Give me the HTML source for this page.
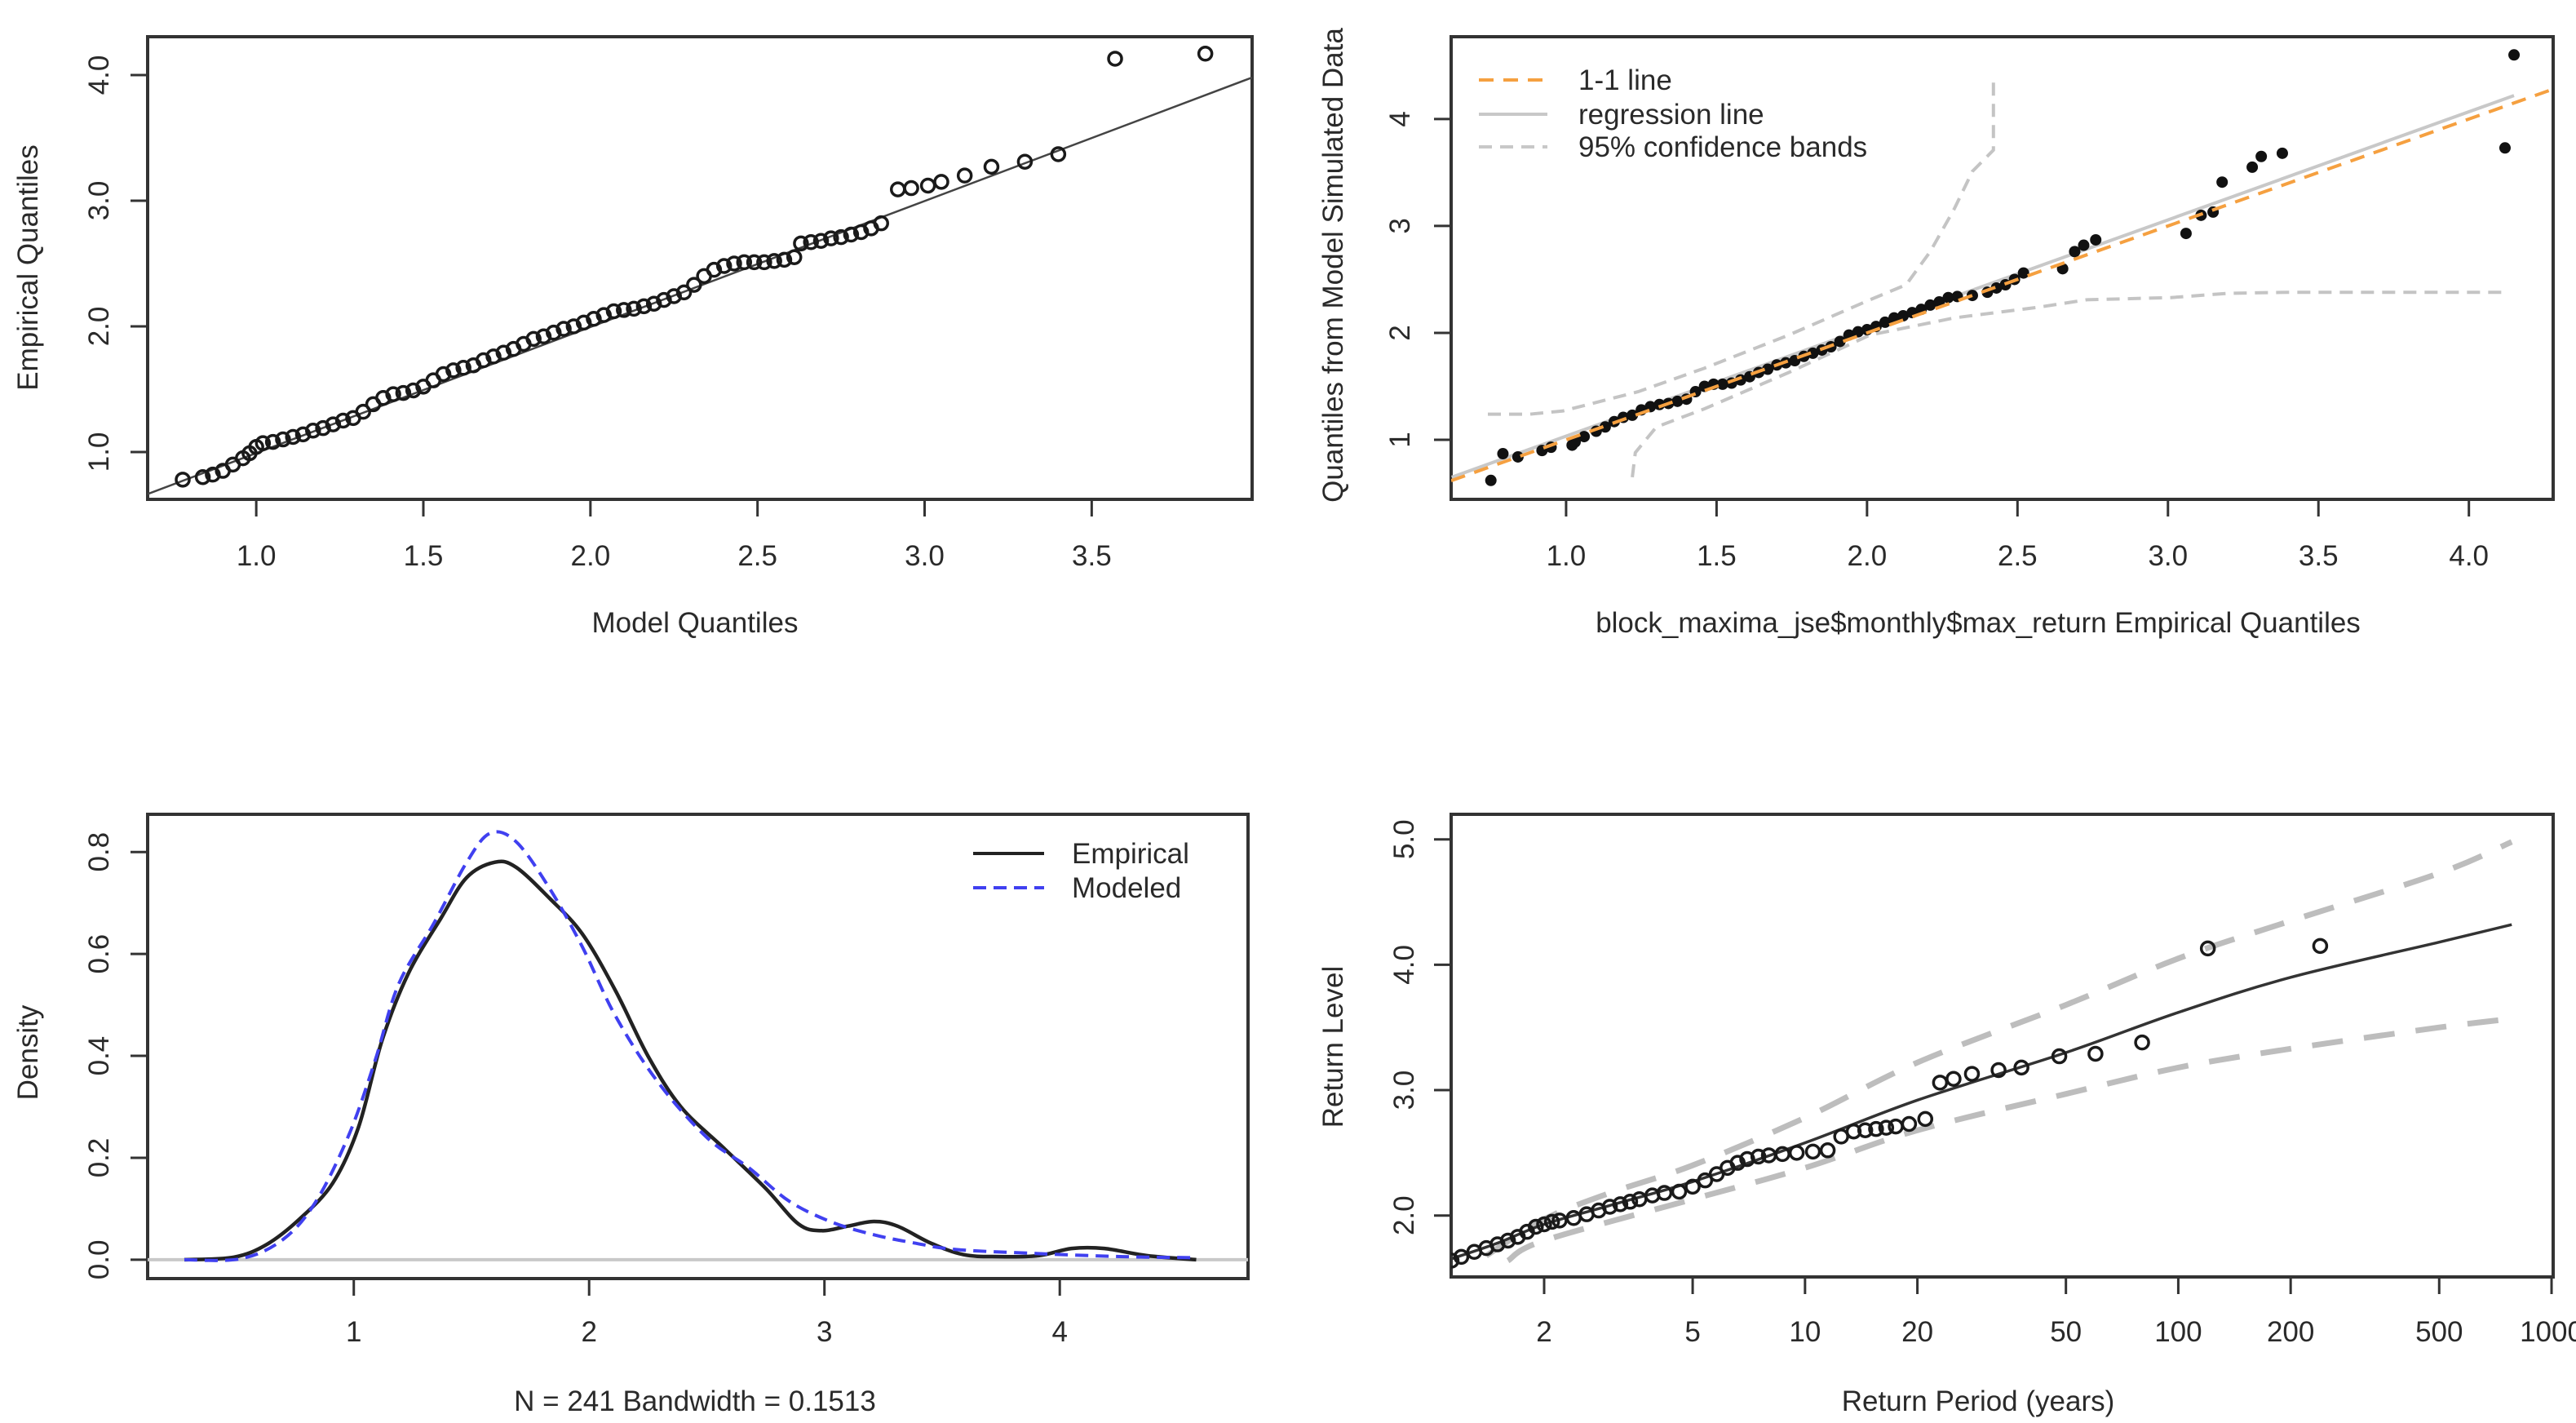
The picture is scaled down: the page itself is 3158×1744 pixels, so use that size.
<!DOCTYPE html>
<html><head><meta charset="utf-8"><style>
html,body{margin:0;padding:0;background:#fff;}
svg{display:block;font-family:"Liberation Sans",sans-serif;}
</style></head><body>
<svg id="fig" width="3158" height="1744" viewBox="0 0 3158 1744" xmlns="http://www.w3.org/2000/svg">
<rect width="3158" height="1744" fill="#fff"/>
</svg>
<script>
// ---------- Panel 1: QQ plot (model vs empirical) ----------
const p1Model = [0.78,0.84,0.87,0.90,0.93,0.96,0.98,1.00,1.02,1.05,1.08,1.11,1.14,1.17,1.20,1.23,1.26,1.29,1.32,1.35,1.38,1.41,1.44,1.47,1.50,1.53,1.56,1.59,1.62,1.65,1.68,1.71,1.74,1.77,1.80,1.83,1.86,1.89,1.92,1.95,1.98,2.01,2.04,2.07,2.10,2.13,2.16,2.19,2.22,2.25,2.28,2.31,2.34,2.37,2.40,2.43,2.46,2.49,2.52,2.55,2.58,2.61,2.63,2.66,2.69,2.72,2.75,2.78,2.81,2.84,2.87,2.92,2.96,3.01,3.05,3.12,3.20,3.30,3.40,3.57,3.84];
const p1Emp = [0.78,0.80,0.82,0.85,0.90,0.95,0.99,1.04,1.07,1.08,1.10,1.12,1.14,1.17,1.19,1.22,1.25,1.27,1.32,1.38,1.43,1.46,1.47,1.49,1.52,1.57,1.62,1.65,1.67,1.69,1.73,1.76,1.79,1.82,1.86,1.90,1.92,1.95,1.98,2.00,2.03,2.06,2.09,2.12,2.13,2.14,2.16,2.18,2.21,2.24,2.27,2.33,2.40,2.45,2.48,2.50,2.51,2.51,2.51,2.52,2.53,2.55,2.66,2.67,2.68,2.70,2.71,2.73,2.75,2.78,2.82,3.09,3.10,3.12,3.15,3.20,3.27,3.31,3.37,4.13,4.17];
const p1LineX = [0.675,3.98];
const p1LineY = [0.665,3.98];
const p1XTicks = [1.0,1.5,2.0,2.5,3.0,3.5];
const p1YTicks = [1.0,2.0,3.0,4.0];

// ---------- Panel 2: QQ plot with simulated data ----------
const p2Emp = [0.75,0.79,0.84,0.92,0.95,1.02,1.03,1.06,1.10,1.13,1.16,1.19,1.22,1.25,1.28,1.31,1.34,1.37,1.40,1.43,1.46,1.49,1.52,1.55,1.58,1.61,1.64,1.67,1.70,1.73,1.76,1.79,1.82,1.85,1.88,1.91,1.94,1.97,2.00,2.03,2.06,2.09,2.12,2.15,2.18,2.21,2.24,2.27,2.30,2.35,2.40,2.43,2.46,2.49,2.52,2.65,2.69,2.72,2.76,3.06,3.11,3.15,3.18,3.28,3.31,3.38,4.12,4.15];
const p2Sim = [0.62,0.87,0.84,0.90,0.93,0.95,0.98,1.03,1.08,1.12,1.17,1.21,1.23,1.28,1.31,1.33,1.34,1.36,1.38,1.45,1.50,1.52,1.52,1.53,1.56,1.59,1.63,1.66,1.70,1.72,1.74,1.78,1.81,1.84,1.87,1.92,1.98,2.01,2.03,2.06,2.10,2.14,2.16,2.19,2.22,2.26,2.29,2.33,2.34,2.35,2.38,2.42,2.45,2.50,2.56,2.60,2.76,2.82,2.87,2.93,3.10,3.13,3.41,3.55,3.65,3.68,3.73,4.60];
const p2OneX = [0.618,4.28];
const p2OneY = [0.618,4.28];
const p2RegX = [0.62,4.15];
const p2RegY = [0.65,4.22];
const p2UpX = [0.74,0.88,0.99,1.24,1.46,1.74,2.01,2.13,2.21,2.29,2.35,2.42,2.42];
const p2UpY = [1.24,1.24,1.27,1.45,1.67,1.98,2.31,2.45,2.76,3.16,3.51,3.71,4.37];
const p2LoX = [1.22,1.23,1.30,1.46,1.74,2.01,2.29,2.57,2.73,3.01,3.20,3.40,4.12];
const p2LoY = [0.65,0.88,1.12,1.29,1.63,1.98,2.14,2.24,2.31,2.33,2.37,2.38,2.38];
const p2XTicks = [1.0,1.5,2.0,2.5,3.0,3.5,4.0];
const p2YTicks = [1,2,3,4];

// ---------- Panel 3: density ----------
const p3EmpX = [0.28,0.49,0.63,0.77,0.91,1.02,1.12,1.23,1.37,1.48,1.60,1.69,1.83,1.97,2.11,2.25,2.39,2.57,2.75,2.89,2.99,3.10,3.21,3.31,3.45,3.59,3.74,3.91,4.05,4.19,4.37,4.58];
const p3EmpY = [0.0,0.005,0.03,0.08,0.15,0.26,0.43,0.56,0.67,0.75,0.78,0.77,0.71,0.64,0.53,0.40,0.30,0.22,0.14,0.07,0.057,0.066,0.075,0.066,0.033,0.01,0.006,0.008,0.022,0.022,0.008,0.0];
const p3ModX = [0.28,0.52,0.70,0.84,0.98,1.09,1.19,1.34,1.48,1.58,1.69,1.83,1.97,2.11,2.29,2.50,2.68,2.85,3.03,3.21,3.38,3.56,3.91,4.27,4.58];
const p3ModY = [0.0,0.002,0.04,0.115,0.246,0.39,0.54,0.66,0.78,0.837,0.82,0.73,0.615,0.48,0.35,0.24,0.18,0.115,0.074,0.049,0.033,0.02,0.012,0.006,0.004];
const p3XTicks = [1,2,3,4];
const p3YTicks = [0.0,0.2,0.4,0.6,0.8];

// ---------- Panel 4: return level ----------
const p4Period = [1.13,1.2,1.3,1.4,1.5,1.6,1.7,1.8,1.9,2.0,2.1,2.2,2.4,2.6,2.8,3.0,3.2,3.4,3.6,3.9,4.2,4.6,5.0,5.4,5.8,6.2,6.6,7.0,7.5,8.0,8.7,9.5,10.5,11.5,12.5,13.5,14.5,15.5,16.5,17.5,19,21,23,25,28,33,38,48,60,80,120,240];
const p4Level = [1.64,1.67,1.71,1.74,1.77,1.80,1.83,1.87,1.91,1.93,1.95,1.96,1.98,2.01,2.04,2.07,2.09,2.11,2.13,2.16,2.18,2.19,2.23,2.28,2.33,2.38,2.42,2.45,2.47,2.48,2.49,2.50,2.51,2.52,2.63,2.67,2.68,2.69,2.70,2.71,2.73,2.77,3.06,3.09,3.13,3.16,3.18,3.27,3.29,3.38,4.13,4.15];
const p4FitP = [1.13,1.5,2,3,5,10,20,50,100,200,500,782];
const p4FitL = [1.655,1.78,1.93,2.08,2.27,2.58,2.92,3.30,3.62,3.90,4.18,4.32];
const p4UpP = [1.4,2,3,5,10,20,50,100,200,500,782];
const p4UpL = [1.68,1.97,2.18,2.40,2.78,3.22,3.68,4.05,4.35,4.73,4.98];
const p4LoP = [1.6,2,5,10,20,50,100,200,500,782];
const p4LoL = [1.64,1.80,2.13,2.38,2.68,2.97,3.18,3.33,3.50,3.57];
const p4XTicks = [2,5,10,20,50,100,200,500,1000];
const p4YTicks = [2.0,3.0,4.0,5.0];

const NS = "http://www.w3.org/2000/svg";
const svg = document.getElementById('fig');
function mk(tag, attrs, parent){
  const e = document.createElementNS(NS, tag);
  for (const k in attrs) e.setAttribute(k, attrs[k]);
  (parent||svg).appendChild(e);
  return e;
}
function linScale(d0,d1,r0,r1){ return v => r0 + (v-d0)/(d1-d0)*(r1-r0); }
function logScale(d0,d1,r0,r1){ return v => r0 + (Math.log10(v)-Math.log10(d0))/(Math.log10(d1)-Math.log10(d0))*(r1-r0); }
function pathFrom(xs, ys, sx, sy){ return xs.map((x,i)=>(i?'L':'M')+sx(x).toFixed(1)+' '+sy(ys[i]).toFixed(1)).join(' '); }
function smoothPath(xs, ys, sx, sy){
  const P = xs.map((x,i)=>[sx(x), sy(ys[i])]);
  let d = 'M'+P[0][0].toFixed(1)+' '+P[0][1].toFixed(1);
  for (let i=0;i<P.length-1;i++){
    const p0=P[Math.max(0,i-1)], p1=P[i], p2=P[i+1], p3=P[Math.min(P.length-1,i+2)];
    const c1=[p1[0]+(p2[0]-p0[0])/6, p1[1]+(p2[1]-p0[1])/6];
    const c2=[p2[0]-(p3[0]-p1[0])/6, p2[1]-(p3[1]-p1[1])/6];
    d += ` C${c1[0].toFixed(1)} ${c1[1].toFixed(1)} ${c2[0].toFixed(1)} ${c2[1].toFixed(1)} ${p2[0].toFixed(1)} ${p2[1].toFixed(1)}`;
  }
  return d;
}
const FS = 35;
const TXT = '#2a2a2a';

function panel(o){
  const g = mk('g', {});
  
  
  const box = mk('rect', {x:o.x0, y:o.y0, width:o.x1-o.x0, height:o.y1-o.y0, fill:'none', stroke:'#333', 'stroke-width':4}, g);
  
  
  o.xticks.forEach((t,i)=>{
    const x = o.sx(t);
    const tk = mk('line', {x1:x, x2:x, y1:o.y1, y2:o.y1+21, stroke:'#333', 'stroke-width':3}, g);
    
    
    const lb = mk('text', {x:x, y:o.xtickY, 'text-anchor':'middle', 'font-size':FS, fill:TXT}, g);
    
    
    lb.textContent = o.xlabels[i];
  });
  const xl = mk('line', {x1:o.sx(o.xticks[0]), x2:o.sx(o.xticks[o.xticks.length-1]), y1:o.y1, y2:o.y1, stroke:'#333','stroke-width':3}, g);
  
  
  o.yticks.forEach((t,i)=>{
    const y = o.sy(t);
    const tk = mk('line', {x1:o.x0-21, x2:o.x0, y1:y, y2:y, stroke:'#333', 'stroke-width':3}, g);
    
    
    const lb = mk('text', {x:0, y:0, transform:`translate(${o.ytickX},${y}) rotate(-90)`, 'text-anchor':'middle', 'font-size':FS, fill:TXT}, g);
    
    
    lb.textContent = o.ylabels[i];
  });
  const xt = mk('text', {x:o.xtitleX, y:o.xtitleY, 'text-anchor':'middle', 'font-size':FS, fill:TXT}, g);
  
  
  xt.textContent = o.xtitle;
  const yt = mk('text', {x:0, y:0, transform:`translate(${o.ytitleX},${o.ytitleY}) rotate(-90)`, 'text-anchor':'middle', 'font-size':FS, fill:TXT}, g);
  
  
  yt.textContent = o.ytitle;
  const clipId = o.name+'-clip';
  const cp = mk('clipPath', {id:clipId}, g);
  mk('rect', {x:o.x0, y:o.y0, width:o.x1-o.x0, height:o.y1-o.y0}, cp);
  const plot = mk('g', {'clip-path':`url(#${clipId})`}, g);
  
  
  return plot;
}

// ===== Panel 1 =====
{
  const o = {name:'qq-model-panel', x0:181, x1:1535, y0:45, y1:612};
  o.sx = linScale(0.675,3.98,o.x0,o.x1); o.sy = linScale(0.623,4.305,o.y1,o.y0);
  o.xticks = p1XTicks; o.xlabels = p1XTicks.map(v=>v.toFixed(1));
  o.yticks = p1YTicks; o.ylabels = p1YTicks.map(v=>v.toFixed(1));
  o.xtickY = 693; o.ytickX = 133; o.xtitle='Model Quantiles'; o.xtitleX=852; o.xtitleY=775;
  o.ytitle='Empirical Quantiles'; o.ytitleX=46; o.ytitleY=328;
  const plot = panel(o);
  const ln = mk('path', {d:pathFrom(p1LineX,p1LineY,o.sx,o.sy), stroke:'#444', 'stroke-width':2.5, fill:'none'}, plot);
  
  
  p1Model.forEach((x,i)=>{
    const c = mk('circle', {cx:o.sx(x), cy:o.sy(p1Emp[i]), r:8, fill:'none', stroke:'#1a1a1a', 'stroke-width':3.5}, plot);
    
    
  });
}

// ===== Panel 2 =====
{
  const o = {name:'qq-simulated-panel', x0:1779, x1:3130, y0:45, y1:612};
  o.sx = linScale(0.618,4.28,o.x0,o.x1); o.sy = linScale(0.443,4.77,o.y1,o.y0);
  o.xticks = p2XTicks; o.xlabels = p2XTicks.map(v=>v.toFixed(1));
  o.yticks = p2YTicks; o.ylabels = p2YTicks.map(v=>String(v));
  o.xtickY = 693; o.ytickX = 1728; o.xtitle='block_maxima_jse$monthly$max_return Empirical Quantiles'; o.xtitleX=2425; o.xtitleY=775;
  o.ytitle='Quantiles from Model Simulated Data'; o.ytitleX=1646; o.ytitleY=325;
  const plot = panel(o);
  const up = mk('path', {d:pathFrom(p2UpX,p2UpY,o.sx,o.sy), stroke:'#c4c4c4','stroke-width':4,'stroke-dasharray':'16 10',fill:'none'}, plot);
  
  
  const lo = mk('path', {d:pathFrom(p2LoX,p2LoY,o.sx,o.sy), stroke:'#c4c4c4','stroke-width':4,'stroke-dasharray':'16 10',fill:'none'}, plot);
  
  
  const rg = mk('path', {d:pathFrom(p2RegX,p2RegY,o.sx,o.sy), stroke:'#c8c8c8','stroke-width':4,fill:'none'}, plot);
  
  
  p2Emp.forEach((x,i)=>{
    const c = mk('circle', {cx:o.sx(x), cy:o.sy(p2Sim[i]), r:7, fill:'#111'}, plot);
    
    
  });
  const one = mk('path', {d:pathFrom(p2OneX,p2OneY,o.sx,o.sy), stroke:'#f5a040','stroke-width':4,'stroke-dasharray':'18 12',fill:'none'}, plot);
  
  
  const lg = mk('g', {});
  
  
  const items = [['1-1 line','#f5a040','18 12'],['regression line','#c8c8c8',''],['95% confidence bands','#c8c8c8','16 10']];
  const rows = [98,140,180];
  items.forEach((it,i)=>{
    const l = mk('line', {x1:1813,x2:1897,y1:rows[i],y2:rows[i],stroke:it[1],'stroke-width':4,'stroke-dasharray':it[2]}, lg);
    
    
    const t = mk('text', {x:1935,y:rows[i]+12,'font-size':FS,fill:TXT}, lg);
    
    
    t.textContent = it[0];
  });
}

// ===== Panel 3 =====
{
  const o = {name:'density-panel', x0:181, x1:1530, y0:998, y1:1567};
  o.sx = linScale(0.124,4.80,o.x0,o.x1); o.sy = linScale(-0.037,0.874,o.y1,o.y0);
  o.xticks = p3XTicks; o.xlabels = p3XTicks.map(v=>String(v));
  o.yticks = p3YTicks; o.ylabels = p3YTicks.map(v=>v.toFixed(1));
  o.xtickY = 1644; o.ytickX = 133; o.xtitle='N = 241   Bandwidth = 0.1513'; o.xtitleX=852; o.xtitleY=1729;
  o.ytitle='Density'; o.ytitleX=46; o.ytitleY=1290;
  const plot = panel(o);
  const zero = mk('line', {x1:o.x0,x2:o.x1,y1:o.sy(0),y2:o.sy(0),stroke:'#c8c8c8','stroke-width':4}, plot);
  
  
  const emp = mk('path', {d:smoothPath(p3EmpX,p3EmpY,o.sx,o.sy), stroke:'#222','stroke-width':4.5,fill:'none','stroke-linejoin':'round'}, plot);
  
  
  const mod = mk('path', {d:smoothPath(p3ModX,p3ModY,o.sx,o.sy), stroke:'#4040f0','stroke-width':4,'stroke-dasharray':'16 9',fill:'none'}, plot);
  
  
  const lg = mk('g', {});
  
  
  const items = [['Empirical','#222',''],['Modeled','#4040f0','16 9']];
  const rows = [1046,1088];
  items.forEach((it,i)=>{
    const l = mk('line', {x1:1193,x2:1280,y1:rows[i],y2:rows[i],stroke:it[1],'stroke-width':4,'stroke-dasharray':it[2]}, lg);
    
    
    const t = mk('text', {x:1314,y:rows[i]+12,'font-size':FS,fill:TXT}, lg);
    
    
    t.textContent = it[0];
  });
}

// ===== Panel 4 =====
{
  const o = {name:'return-level-panel', x0:1779, x1:3130, y0:998, y1:1565};
  o.sx = logScale(1.127,1010,o.x0,o.x1); o.sy = linScale(1.51,5.20,o.y1,o.y0);
  o.xticks = p4XTicks; o.xlabels = p4XTicks.map(v=>String(v));
  o.yticks = p4YTicks; o.ylabels = p4YTicks.map(v=>v.toFixed(1));
  o.xtickY = 1644; o.ytickX = 1733; o.xtitle='Return Period (years)'; o.xtitleX=2425; o.xtitleY=1729;
  o.ytitle='Return Level'; o.ytitleX=1646; o.ytitleY=1283;
  const plot = panel(o);
  const up = mk('path', {d:smoothPath(p4UpP,p4UpL,o.sx,o.sy), stroke:'#bdbdbd','stroke-width':7,'stroke-dasharray':'38 26',fill:'none'}, plot);
  
  
  const lo = mk('path', {d:smoothPath(p4LoP,p4LoL,o.sx,o.sy), stroke:'#bdbdbd','stroke-width':7,'stroke-dasharray':'38 26',fill:'none'}, plot);
  
  
  const fit = mk('path', {d:smoothPath(p4FitP,p4FitL,o.sx,o.sy), stroke:'#333','stroke-width':3.5,fill:'none'}, plot);
  
  
  p4Period.forEach((p,i)=>{
    const c = mk('circle', {cx:o.sx(p), cy:o.sy(p4Level[i]), r:8, fill:'none', stroke:'#1a1a1a','stroke-width':3.5}, plot);
    
    
  });
}
</script>
</body></html>
